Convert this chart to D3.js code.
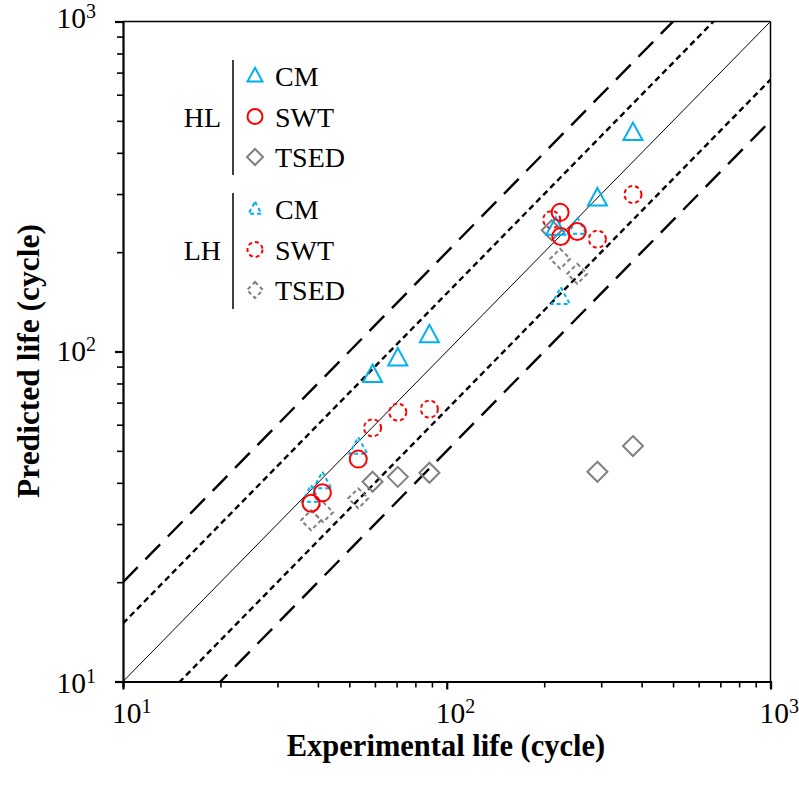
<!DOCTYPE html>
<html>
<head>
<meta charset="utf-8">
<script src="https://cdn.jsdelivr.net/npm/d3@7"></script>
<style>
  body { margin: 0; background: #fff; }
  text { font-family: "Liberation Serif", "Times New Roman", serif; }
</style>
</head>
<body>
<svg id="chart" width="799" height="787"></svg>
<script>
// experimental life vs predicted life, [exp, pred]
const hlCM   = [[59, 84.9], [70.6, 95.3], [88.4, 112], [217, 237], [292, 291], [376, 459]];
const hlSWT  = [[38.1, 34.7], [41.3, 37.3], [53.3, 47.2], [224, 264], [225, 223], [253, 231]];
const hlTSED = [[59, 40.3], [70.6, 41.7], [88.4, 42.9], [211, 233], [292, 43.2], [376, 51.7]];
const lhCM   = [[38.1, 36.7], [41.3, 40.3], [53.3, 51.3], [225, 146], [253, 238]];
const lhSWT  = [[59, 58.7], [70.6, 65.5], [88.4, 66.9], [211, 251], [292, 219], [376, 299]];
const lhTSED = [[38.1, 30.8], [41.5, 32.6], [53.3, 35.9], [224, 191], [253, 172]];

const decades = [10, 100, 1000];
const bands = [
    {f: 2, dash: "21,11", w: 2.4},
    {f: 1.5, dash: "6,4", w: 2.4},
    {f: 1, dash: null, w: 1}
];

const blue = "#00b0f0", red = "#ff0000", gray = "#808080";

const svg = d3.select("#chart");
const pLeft = 123, pRight = 770.5, pTop = 21.5, pBottom = 681.5;

let x = d3.scaleLog().domain([10, 1000]).range([pLeft, pRight]);
let y = d3.scaleLog().domain([10, 1000]).range([pBottom, pTop]);

// clip for diagonal lines
svg.append("clipPath").attr("id", "clip")
    .append("rect").attr("x", pLeft).attr("y", pTop)
    .attr("width", pRight - pLeft).attr("height", pBottom - pTop);

// band lines
let lineGroup = svg.append("g").attr("clip-path", "url(#clip)");
bands.forEach(b => {
    let factors = b.f === 1 ? [1] : [b.f, 1 / b.f];
    factors.forEach(k => {
        lineGroup.append("line")
            .attr("x1", x(10)).attr("y1", y(10 * k))
            .attr("x2", x(1000)).attr("y2", y(1000 * k))
            .attr("stroke", "#000")
            .attr("stroke-width", b.w)
            .attr("stroke-dasharray", b.dash);
    });
});

// marker shapes
function triPath(s) {
    let h = s * 0.92;
    return `M0,${-h * 0.6}L${s / 2},${h * 0.4}L${-s / 2},${h * 0.4}Z`;
}
function diaPath(s) {
    let r = s / 2;
    return `M0,${-r}L${r},0L0,${r}L${-r},0Z`;
}

function drawMarker(g, shape, color, dashed, size) {
    let el;
    if (shape === "circle") {
        el = g.append("circle").attr("r", size / 2);
    } else if (shape === "tri") {
        el = g.append("path").attr("d", triPath(size));
    } else {
        el = g.append("path").attr("d", diaPath(size));
    }
    el.attr("fill", "none").attr("stroke", color).attr("stroke-width", 2)
        .attr("stroke-dasharray", dashed ? "4,3" : null);
    return el;
}

const series = [
    {data: lhTSED, shape: "dia", color: gray, dashed: true, size: 20},
    {data: hlTSED, shape: "dia", color: gray, dashed: false, size: 20},
    {data: lhSWT, shape: "circle", color: red, dashed: true, size: 17},
    {data: lhCM, shape: "tri", color: blue, dashed: true, size: 18},
    {data: hlCM, shape: "tri", color: blue, dashed: false, size: 19},
    {data: hlSWT, shape: "circle", color: red, dashed: false, size: 17}
];

series.forEach(s => {
    s.data.forEach(d => {
        let g = svg.append("g").attr("transform", `translate(${x(d[0])},${y(d[1])})`);
        drawMarker(g, s.shape, s.color, s.dashed, s.size);
    });
});

// frame
svg.append("line").attr("x1", pLeft).attr("x2", pRight).attr("y1", pTop).attr("y2", pTop)
    .attr("stroke", "#000").attr("stroke-width", 1.5);
svg.append("line").attr("x1", pRight).attr("x2", pRight).attr("y1", pTop).attr("y2", pBottom)
    .attr("stroke", "#000").attr("stroke-width", 1.5);

// minor ticks
let minor = [];
[10, 100].forEach(d => { for (let i = 2; i <= 9; i++) minor.push(d * i); });

let xAxis = svg.append("g").attr("transform", `translate(0,${pBottom})`)
    .call(d3.axisBottom(x).tickValues(minor).tickSize(6).tickFormat(""));
let yAxis = svg.append("g").attr("transform", `translate(${pLeft},0)`)
    .call(d3.axisLeft(y).tickValues(minor).tickSize(6).tickFormat(""));
[xAxis, yAxis].forEach(a => {
    a.select(".domain").attr("stroke-width", 2.2);
    a.selectAll(".tick line").attr("stroke-width", 1.6);
});

// major ticks
svg.append("g").attr("transform", `translate(0,${pBottom})`)
    .call(d3.axisBottom(x).tickValues(decades).tickSize(8).tickFormat(""))
    .call(g => g.select(".domain").remove())
    .selectAll(".tick line").attr("stroke-width", 2.2);
svg.append("g").attr("transform", `translate(${pLeft},0)`)
    .call(d3.axisLeft(y).tickValues(decades).tickSize(8).tickFormat(""))
    .call(g => g.select(".domain").remove())
    .selectAll(".tick line").attr("stroke-width", 2.2);

// tick labels with superscripts
function powLabel(sel, v) {
    let e = Math.round(Math.log10(v));
    sel.append("tspan").text("10");
    sel.append("tspan").attr("dy", -10).attr("font-size", 20).text(e);
}
decades.forEach(v => {
    let t = svg.append("text").attr("x", x(v) - 11).attr("y", pBottom + 41)
        .attr("font-size", 29.5);
    powLabel(t, v);
    let t2 = svg.append("text").attr("x", pLeft - 27).attr("y", y(v) + (v === 1000 ? 6 : v === 100 ? 9 : 11))
        .attr("text-anchor", "end").attr("font-size", 29.5);
    powLabel(t2, v);
});

// axis titles
svg.append("text").attr("x", 446).attr("y", 756).attr("text-anchor", "middle")
    .attr("font-size", 30.5).attr("font-weight", "bold").text("Experimental life (cycle)");
svg.append("text").attr("transform", "translate(39,361) rotate(-90)")
    .attr("text-anchor", "middle").attr("font-size", 31.5).attr("font-weight", "bold")
    .text("Predicted life (cycle)");

// legend
const legendGroups = [
    {name: "HL", y0: 60, y1: 175, dashed: false, sizes: [15, 15, 16]},
    {name: "LH", y0: 193, y1: 309, dashed: true, sizes: [13, 15, 16]}
];
const legendItems = [
    {label: "CM", shape: "tri", color: blue},
    {label: "SWT", shape: "circle", color: red},
    {label: "TSED", shape: "dia", color: gray}
];
legendGroups.forEach(lg => {
    let g = svg.append("g");
    g.append("line").attr("x1", 233).attr("x2", 233)
        .attr("y1", lg.y0).attr("y2", lg.y1)
        .attr("stroke", "#000").attr("stroke-width", 1.5);
    g.append("text").attr("x", 221).attr("y", lg.y0 + 67).attr("text-anchor", "end")
        .attr("font-size", 28).text(lg.name);
    legendItems.forEach((it, i) => {
        let cy = lg.y0 + 16 + i * 40.5;
        let m = g.append("g").attr("transform", `translate(255,${cy})`);
        drawMarker(m, it.shape, it.color, lg.dashed, lg.sizes[i]);
        g.append("text").attr("x", 275).attr("y", cy + 10).attr("font-size", 28).text(it.label);
    });
});
</script>
</body>
</html>
